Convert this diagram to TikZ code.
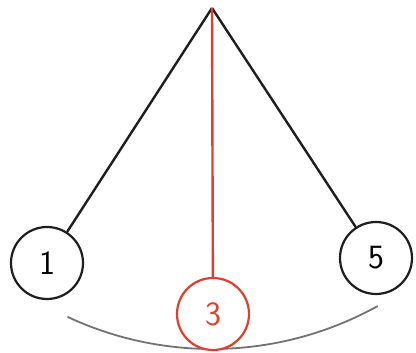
\documentclass[tikz,border=0pt]{standalone}
\usepackage{xcolor}
\usepackage{tikz}
\usetikzlibrary{positioning,calc}

\definecolor{bobred}{RGB}{222,64,46}
\definecolor{inkblack}{RGB}{30,30,30}

\begin{document}
\begin{tikzpicture}[x=1pt,y=-1pt,
  bob/.style={circle, draw=inkblack, line width=2.2pt, fill=white,
    minimum size=72pt, inner sep=0pt,
    font=\sffamily\fontsize{34}{34}\selectfont},
  redbob/.style={bob, draw=bobred, text=bobred},
  string/.style={line width=2.4pt, draw=inkblack},
  redstring/.style={string, draw=bobred},
  swing/.style={line width=1.8pt, draw=black!55, line cap=round}]
  \useasboundingbox (0,0) rectangle (416,353);
  % pivot
  \coordinate (pivot) at (212,8);
  % path of the swing
  \draw[swing] plot[domain=61:115, samples=60]
    ({212+341*cos(\x)}, {8+341*sin(\x)});
  % bobs
  \node[bob] (b1) at (47,263) {1};
  \node[redbob] (b3) at (213,314) {3};
  \node[bob] (b5) at (376,258) {5};
  % strings
  \draw[string] (pivot) -- (b1);
  \draw[string] (pivot) -- (b5);
  \draw[redstring] (pivot) -- (b3);
\end{tikzpicture}
\end{document}
